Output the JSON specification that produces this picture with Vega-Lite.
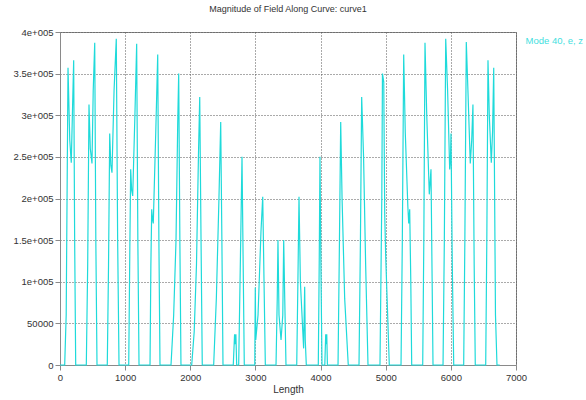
{
  "$schema": "https://vega.github.io/schema/vega-lite/v6.json",
  "width": 456,
  "height": 333,
  "autosize": {"type": "pad"},
  "padding": {"left": 5, "top": 5, "right": 0, "bottom": 0},
  "background": "white",
  "title": {"text": "Magnitude of Field Along Curve: curve1", "font": "Liberation Sans", "fontSize": 9, "fontWeight": "normal", "color": "#333333", "offset": 13, "anchor": "middle"},
  "config": {
    "view": {"stroke": "#8a8a8a", "strokeWidth": 1},
    "axis": {
      "labelFont": "Liberation Sans", "labelFontSize": 9.5, "labelColor": "#333333",
      "titleFont": "Liberation Sans", "titleFontSize": 10, "titleFontWeight": "normal", "titleColor": "#333333",
      "domainColor": "#8a8a8a", "tickColor": "#8a8a8a", "tickSize": 5,
      "gridColor": "#555555", "gridDash": [1, 2], "gridOpacity": 1, "gridWidth": 1
    }
  },
  "data": {"values": [
    {"x":0,"y":0},
    {"x":72,"y":0},{"x":95,"y":60000},{"x":123,"y":357000},{"x":150,"y":270000},{"x":173,"y":243000},{"x":190,"y":300000},{"x":210,"y":366000},{"x":225,"y":150000},{"x":241,"y":0},
    {"x":404,"y":0},{"x":425,"y":120000},{"x":445,"y":313000},{"x":465,"y":260000},{"x":491,"y":242000},{"x":510,"y":330000},{"x":533,"y":387000},{"x":550,"y":150000},{"x":568,"y":0},
    {"x":726,"y":0},{"x":745,"y":120000},{"x":763,"y":278000},{"x":780,"y":240000},{"x":798,"y":231000},{"x":830,"y":330000},{"x":864,"y":392000},{"x":885,"y":150000},{"x":906,"y":0},
    {"x":1055,"y":0},{"x":1072,"y":140000},{"x":1085,"y":235000},{"x":1100,"y":210000},{"x":1116,"y":203000},{"x":1150,"y":300000},{"x":1177,"y":386000},{"x":1195,"y":150000},{"x":1213,"y":0},
    {"x":1382,"y":0},{"x":1395,"y":120000},{"x":1408,"y":187000},{"x":1420,"y":175000},{"x":1432,"y":170000},{"x":1470,"y":280000},{"x":1500,"y":373000},{"x":1518,"y":150000},{"x":1535,"y":0},
    {"x":1704,"y":0},{"x":1745,"y":60000},{"x":1781,"y":150000},{"x":1807,"y":290000},{"x":1822,"y":350000},{"x":1840,"y":150000},{"x":1857,"y":0},
    {"x":2022,"y":0},{"x":2060,"y":40000},{"x":2095,"y":120000},{"x":2125,"y":250000},{"x":2145,"y":322000},{"x":2165,"y":150000},{"x":2184,"y":0},
    {"x":2359,"y":0},{"x":2400,"y":80000},{"x":2440,"y":200000},{"x":2467,"y":292000},{"x":2485,"y":150000},{"x":2502,"y":0},
    {"x":2660,"y":0},{"x":2680,"y":37000},{"x":2690,"y":25000},{"x":2700,"y":37000},{"x":2712,"y":0},
    {"x":2743,"y":0},{"x":2770,"y":130000},{"x":2794,"y":250000},{"x":2812,"y":120000},{"x":2829,"y":0},
    {"x":2990,"y":0},{"x":2998,"y":93000},{"x":3005,"y":30000},{"x":3040,"y":60000},{"x":3085,"y":160000},{"x":3112,"y":202000},{"x":3132,"y":100000},{"x":3152,"y":0},
    {"x":3316,"y":0},{"x":3335,"y":80000},{"x":3346,"y":150000},{"x":3362,"y":60000},{"x":3393,"y":30000},{"x":3420,"y":60000},{"x":3434,"y":150000},{"x":3450,"y":80000},{"x":3469,"y":0},
    {"x":3634,"y":0},{"x":3652,"y":100000},{"x":3669,"y":202000},{"x":3690,"y":100000},{"x":3740,"y":20000},{"x":3756,"y":94000},{"x":3765,"y":30000},{"x":3781,"y":0},
    {"x":3965,"y":0},{"x":3980,"y":130000},{"x":3991,"y":250000},{"x":4005,"y":120000},{"x":4022,"y":0},
    {"x":4065,"y":0},{"x":4079,"y":37000},{"x":4087,"y":25000},{"x":4095,"y":37000},{"x":4105,"y":0},
    {"x":4268,"y":0},{"x":4290,"y":150000},{"x":4309,"y":292000},{"x":4330,"y":200000},{"x":4370,"y":80000},{"x":4425,"y":0},
    {"x":4590,"y":0},{"x":4612,"y":150000},{"x":4631,"y":322000},{"x":4660,"y":250000},{"x":4692,"y":120000},{"x":4728,"y":0},
    {"x":4912,"y":0},{"x":4940,"y":200000},{"x":4950,"y":350000},{"x":4970,"y":340000},{"x":4985,"y":180000},{"x":5000,"y":130000},{"x":5055,"y":0},
    {"x":5235,"y":0},{"x":5255,"y":150000},{"x":5276,"y":373000},{"x":5300,"y":280000},{"x":5340,"y":190000},{"x":5353,"y":170000},{"x":5368,"y":187000},{"x":5385,"y":100000},{"x":5399,"y":0},
    {"x":5568,"y":0},{"x":5585,"y":150000},{"x":5603,"y":387000},{"x":5630,"y":300000},{"x":5669,"y":205000},{"x":5682,"y":220000},{"x":5695,"y":235000},{"x":5710,"y":120000},{"x":5726,"y":0},
    {"x":5880,"y":0},{"x":5900,"y":150000},{"x":5921,"y":392000},{"x":5950,"y":330000},{"x":5982,"y":235000},{"x":5995,"y":250000},{"x":6002,"y":278000},{"x":6022,"y":120000},{"x":6044,"y":0},
    {"x":6197,"y":0},{"x":6215,"y":150000},{"x":6237,"y":388000},{"x":6262,"y":330000},{"x":6298,"y":242000},{"x":6320,"y":270000},{"x":6339,"y":313000},{"x":6358,"y":120000},{"x":6375,"y":0},
    {"x":6535,"y":0},{"x":6552,"y":150000},{"x":6570,"y":366000},{"x":6590,"y":300000},{"x":6621,"y":243000},{"x":6640,"y":280000},{"x":6658,"y":357000},{"x":6685,"y":60000},{"x":6708,"y":0},{"x":6750,"y":0}
  ]},
  "transform": [{"calculate": "'Mode 40, e, z'", "as": "series"}],
  "mark": {"type": "line", "strokeWidth": 1.2, "interpolate": "linear"},
  "encoding": {
    "x": {"field": "x", "type": "quantitative", "title": "Length",
      "scale": {"domain": [0, 7000], "nice": false},
      "axis": {"values": [0,1000,2000,3000,4000,5000,6000,7000], "format": "d", "labelFlush": false, "titlePadding": 3, "labelPadding": 2}},
    "y": {"field": "y", "type": "quantitative", "title": null,
      "scale": {"domain": [0, 400000], "nice": false},
      "axis": {"values": [0,50000,100000,150000,200000,250000,300000,350000,400000], "minExtent": 55, "maxExtent": 55, "labelPadding": 2,
        "labelExpr": "datum.value >= 100000 ? format(datum.value/100000, '') + 'e+005' : format(datum.value, 'd')"}},
    "color": {"field": "series", "type": "nominal",
      "scale": {"range": ["#1fdada"]},
      "legend": {"title": null, "orient": "right", "offset": -4, "padding": 4, "symbolSize": 0, "symbolOpacity": 0, "symbolStrokeWidth": 0, "labelOffset": 0, "labelColor": "#3fe0e0", "labelFont": "Liberation Sans", "labelFontSize": 9.5}}
  }
}
